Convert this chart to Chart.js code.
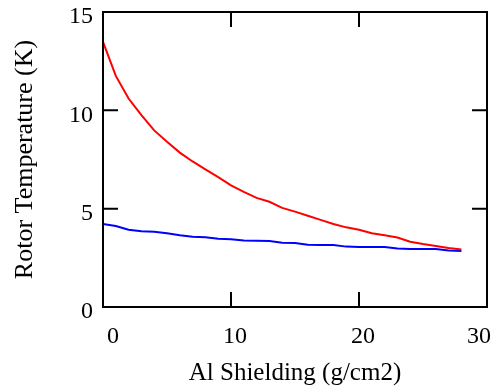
<!DOCTYPE html>
<html>
<head>
<meta charset="utf-8">
<script src="https://cdn.jsdelivr.net/npm/chart.js@4/dist/chart.umd.min.js"></script>
<style>
html,body{margin:0;padding:0;background:#fff;}
#wrap{width:494px;height:388px;}
</style>
</head>
<body>
<div id="wrap"><canvas id="c" width="494" height="388"></canvas></div>
<script>
const shielding = [0,1,2,3,4,5,6,7,8,9,10,11,12,13,14,15,16,17,18,19,20,21,22,23,24,25,26,27,28];
const redTemp = [13.48,11.75,10.6,9.76,8.98,8.4,7.85,7.4,7.0,6.6,6.18,5.85,5.55,5.35,5.04,4.85,4.64,4.43,4.22,4.05,3.93,3.75,3.65,3.53,3.32,3.2,3.1,3.0,2.92];
const blueTemp = [4.22,4.12,3.93,3.85,3.83,3.75,3.65,3.57,3.55,3.47,3.45,3.38,3.37,3.35,3.27,3.25,3.17,3.15,3.15,3.07,3.05,3.05,3.05,2.97,2.95,2.95,2.95,2.87,2.85];
const xTicks = [0,10,20,30];
const yTicks = [0,5,10,15];

const serif = "'Liberation Serif','Times New Roman',serif";

const framePlugin = {
  id: 'frame',
  afterDraw(chart) {
    const {ctx, chartArea: a, scales: {x, y}} = chart;
    ctx.save();
    ctx.strokeStyle = '#000';
    ctx.lineWidth = 2;
    ctx.strokeRect(a.left, a.top, a.right - a.left, a.bottom - a.top);
    const tl = 15;
    ctx.beginPath();
    xTicks.forEach(v => {
      if (v <= x.min || v >= x.max) return;
      const px = x.getPixelForValue(v);
      ctx.moveTo(px, a.bottom); ctx.lineTo(px, a.bottom - tl);
      ctx.moveTo(px, a.top); ctx.lineTo(px, a.top + tl);
    });
    yTicks.forEach(v => {
      if (v <= y.min || v >= y.max) return;
      const py = y.getPixelForValue(v);
      ctx.moveTo(a.left, py); ctx.lineTo(a.left + tl, py);
      ctx.moveTo(a.right, py); ctx.lineTo(a.right - tl, py);
    });
    ctx.stroke();
    ctx.restore();
  }
};

new Chart(document.getElementById('c'), {
  type: 'line',
  data: {
    datasets: [
      {data: shielding.map((s,i)=>({x:s,y:redTemp[i]})), borderColor:'#ff0000', borderWidth:2, pointRadius:0, tension:0, fill:false},
      {data: shielding.map((s,i)=>({x:s,y:blueTemp[i]})), borderColor:'#0000ff', borderWidth:2, pointRadius:0, tension:0, fill:false}
    ]
  },
  options: {
    responsive: false,
    animation: false,
    devicePixelRatio: 1,
    layout: {padding: {top: 12, right: 7, left: 0, bottom: 0}},
    plugins: {legend: {display:false}, tooltip: {enabled:false}},
    scales: {
      x: {
        type: 'linear', min: 0, max: 30,
        afterBuildTicks(s){ s.ticks = xTicks.map(v=>({value:v})); },
        afterFit(s){ s.height = 81; s.paddingLeft = 0; s.paddingRight = 0; },
        grid: {display:false, drawTicks:false},
        border: {display:false},
        ticks: {color:'#000', font:{family:serif, size:24}, padding:15, labelOffset:4, align:'inner', maxRotation:0, autoSkip:false},
        title: {display:true, text:'Al Shielding (g/cm2)', color:'#000', font:{family:serif, size:25}, padding:{top:0,bottom:0}}
      },
      y: {
        type: 'linear', min: 0, max: 15,
        afterBuildTicks(s){ s.ticks = yTicks.map(v=>({value:v})); },
        afterFit(s){ s.width = 103; s.paddingTop = 0; s.paddingBottom = 0; },
        grid: {display:false, drawTicks:false},
        border: {display:false},
        ticks: {color:'#000', font:{family:serif, size:24}, padding:10, labelOffset:5, autoSkip:false},
        title: {display:true, text:'Rotor Temperature (K)', color:'#000', font:{family:serif, size:26}, padding:{top:10,bottom:0}}
      }
    }
  },
  plugins: [framePlugin]
});
</script>
</body>
</html>
